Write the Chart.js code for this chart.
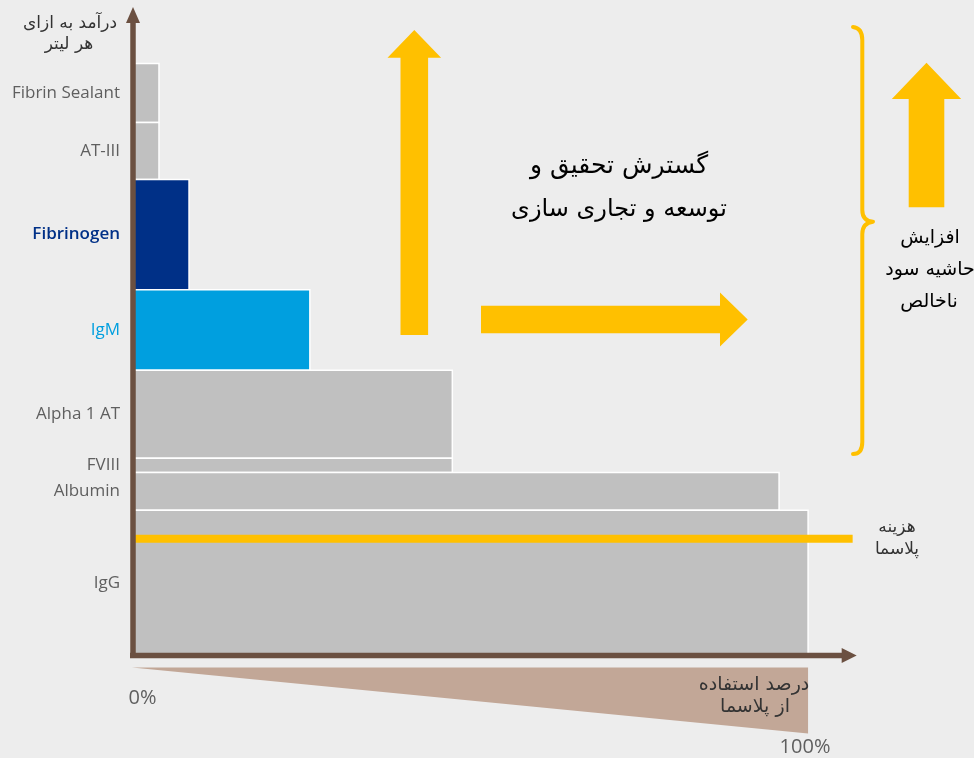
<!DOCTYPE html>
<html><head><meta charset="utf-8">
<script src="https://cdn.jsdelivr.net/npm/chart.js@4.4.0/dist/chart.umd.min.js"></script>
<style>html,body{margin:0;padding:0;background:#ededed;overflow:hidden}canvas{display:block}</style>
</head><body><canvas id="c" width="974" height="758"></canvas>
<script>
// ---- data ----
const products     = ['IgG', 'Albumin', 'FVIII', 'Alpha 1 AT', 'IgM', 'Fibrinogen', 'AT-III', 'Fibrin Sealant'];
const revenueFrom  = [0,    22.4, 28.2, 30.4, 44.0, 56.4, 73.4, 82.2];   // revenue per litre: band start
const revenueTo    = [22.4, 28.2, 30.4, 44.0, 56.4, 73.4, 82.2, 91.3];   // revenue per litre: band end
const plasmaUse    = [100,  95.7, 47.3, 47.3, 26.2, 8.3,  3.85, 3.85];   // % of plasma used
const plasmaCost   = 18.0;
const plasmaCostTo = 106.6;

// ---- styles ----
const barFill   = ['#c0c0c0','#c0c0c0','#c0c0c0','#c0c0c0','#009fdf','#003087','#c0c0c0','#c0c0c0'];
const tickColor = ['#5f5f5f','#5f5f5f','#5f5f5f','#5f5f5f','#009fdf','#003087','#5f5f5f','#5f5f5f'];
const tickWeight = [400, 400, 400, 400, 500, 600, 400, 400];
const YELLOW = '#ffc000', BROWN = '#6b5041', ARFONT = '"DejaVu Sans", sans-serif';

const datasets = products.map((p, i) => ({
  label: p,
  order: 1,
  data: [
    {x: 0, y: revenueFrom[i]}, {x: 0, y: revenueTo[i]},
    {x: plasmaUse[i], y: revenueTo[i]}, {x: plasmaUse[i], y: revenueFrom[i]},
    {x: 0, y: revenueFrom[i]}
  ],
  showLine: true, fill: 'shape', tension: 0,
  backgroundColor: barFill[i], borderColor: '#ffffff', borderWidth: 1.5,
  pointRadius: 0, pointHoverRadius: 0
}));
datasets.push({
  label: 'plasma cost',
  order: 0,
  data: [{x: 0, y: plasmaCost}, {x: plasmaCostTo, y: plasmaCost}],
  showLine: true, fill: false, borderColor: YELLOW, borderWidth: 8,
  borderCapStyle: 'butt', pointRadius: 0, pointHoverRadius: 0
});

const centers = products.map((p, i) => (revenueFrom[i] + revenueTo[i]) / 2);

function upArrow(ctx, cx, tipY, headHalf, baseY, shaftHalf, bottomY) {
  ctx.beginPath();
  ctx.moveTo(cx, tipY); ctx.lineTo(cx + headHalf, baseY); ctx.lineTo(cx + shaftHalf, baseY);
  ctx.lineTo(cx + shaftHalf, bottomY); ctx.lineTo(cx - shaftHalf, bottomY);
  ctx.lineTo(cx - shaftHalf, baseY); ctx.lineTo(cx - headHalf, baseY); ctx.closePath(); ctx.fill();
}
function rightArrow(ctx, cy, tipX, headHalf, baseX, shaftHalf, leftX) {
  ctx.beginPath();
  ctx.moveTo(tipX, cy); ctx.lineTo(baseX, cy + headHalf); ctx.lineTo(baseX, cy + shaftHalf);
  ctx.lineTo(leftX, cy + shaftHalf); ctx.lineTo(leftX, cy - shaftHalf);
  ctx.lineTo(baseX, cy - shaftHalf); ctx.lineTo(baseX, cy - headHalf); ctx.closePath(); ctx.fill();
}
function txt(ctx, s, x, y, size, color, font) {
  ctx.font = size + 'px ' + (font || ARFONT);
  ctx.fillStyle = color; ctx.textAlign = 'center'; ctx.textBaseline = 'middle';
  ctx.fillText(s, x, y);
}

const decor = {
  id: 'decor',
  afterDatasetsDraw(chart) {
    const ctx = chart.ctx, xs = chart.scales.x, ys = chart.scales.y, a = chart.chartArea;
    const x0 = xs.getPixelForValue(0), x100 = xs.getPixelForValue(100), y0 = ys.getPixelForValue(0);
    ctx.save();
    // wedge under the x axis
    ctx.fillStyle = '#c2a797';
    ctx.beginPath();
    ctx.moveTo(x0 - 1, y0 + 12); ctx.lineTo(x100, y0 + 12); ctx.lineTo(x100, y0 + 78); ctx.closePath(); ctx.fill();
    // axes
    ctx.fillStyle = BROWN; ctx.strokeStyle = BROWN;
    ctx.lineWidth = 5.5;
    ctx.beginPath(); ctx.moveTo(x0 - 3, y0); ctx.lineTo(a.right - 12, y0); ctx.stroke();
    ctx.beginPath(); ctx.moveTo(x0, y0 + 2.5); ctx.lineTo(x0, a.top + 14); ctx.stroke();
    ctx.beginPath(); ctx.moveTo(a.right, y0); ctx.lineTo(a.right - 15, y0 - 7.5); ctx.lineTo(a.right - 15, y0 + 7.5); ctx.closePath(); ctx.fill();
    ctx.beginPath(); ctx.moveTo(x0, a.top); ctx.lineTo(x0 + 7, a.top + 16); ctx.lineTo(x0 - 7, a.top + 16); ctx.closePath(); ctx.fill();
    // yellow arrows
    ctx.fillStyle = YELLOW;
    upArrow(ctx, 414.3, 30, 26.8, 57.7, 13.8, 335);
    rightArrow(ctx, 319.5, 747.7, 27, 720, 13.8, 481);
    upArrow(ctx, 926.5, 62.7, 34.7, 99, 17.8, 207.3);
    // brace
    ctx.strokeStyle = YELLOW; ctx.lineWidth = 4; ctx.lineCap = 'round'; ctx.lineJoin = 'round';
    ctx.beginPath();
    ctx.moveTo(853, 27);
    ctx.quadraticCurveTo(862.3, 28, 862.3, 40);
    ctx.lineTo(862.3, 210);
    ctx.quadraticCurveTo(862.3, 221, 873, 221.7);
    ctx.quadraticCurveTo(862.3, 223, 862.3, 234);
    ctx.lineTo(862.3, 442);
    ctx.quadraticCurveTo(862.3, 454, 853, 454);
    ctx.stroke();
    // texts
    ctx.direction = 'rtl';
    txt(ctx, 'درآمد به ازای', 70, 24, 17, '#333');
    txt(ctx, 'هر لیتر', 69, 45, 17, '#333');
    txt(ctx, 'گسترش تحقیق و', 619, 166, 25, '#000');
    txt(ctx, 'توسعه و تجاری سازی', 619, 210, 24, '#000');
    txt(ctx, 'افزایش', 930, 238, 19, '#000');
    txt(ctx, 'حاشیه سود', 930, 270, 19, '#000');
    txt(ctx, 'ناخالص', 929, 302, 19, '#000');
    txt(ctx, 'هزینه', 897, 528, 17, '#333');
    txt(ctx, 'پلاسما', 897, 550, 17, '#333');
    txt(ctx, 'درصد استفاده', 754, 685, 19, '#333');
    txt(ctx, 'از پلاسما', 755, 707, 19, '#333');
    ctx.direction = 'ltr';
    txt(ctx, '0%', 142.5, 698, 20, '#5f5f5f', '"Open Sans", sans-serif');
    txt(ctx, '100%', 805, 747, 20, '#5f5f5f', '"Open Sans", sans-serif');
    ctx.restore();
  }
};

new Chart(document.getElementById('c'), {
  type: 'scatter',
  data: { datasets },
  plugins: [decor],
  options: {
    responsive: false, animation: false,
    layout: { padding: { left: 0, right: 117.3, top: 7, bottom: 102.5 } },
    plugins: { legend: { display: false }, tooltip: { enabled: false } },
    scales: {
      x: { type: 'linear', min: 0, max: 107.2, display: false },
      y: {
        type: 'linear', min: 0, max: 100, display: true,
        grid: { display: false, drawTicks: false }, border: { display: false },
        afterBuildTicks(scale) { scale.ticks = centers.map(v => ({ value: v })); },
        afterFit(scale) { scale.width = 133; scale.paddingTop = 0; scale.paddingBottom = 0; },
        ticks: {
          autoSkip: false, padding: 13,
          font: ctx => ({ family: '"Open Sans", sans-serif', size: 17,
                          weight: tickWeight[centers.indexOf(ctx.tick && ctx.tick.value)] || 400 }),
          color: ctx => tickColor[centers.indexOf(ctx.tick.value)] || '#5f5f5f',
          callback: (v) => { const i = centers.indexOf(v); return i >= 0 ? products[i] : ''; }
        }
      }
    }
  }
});
</script>
</body></html>
